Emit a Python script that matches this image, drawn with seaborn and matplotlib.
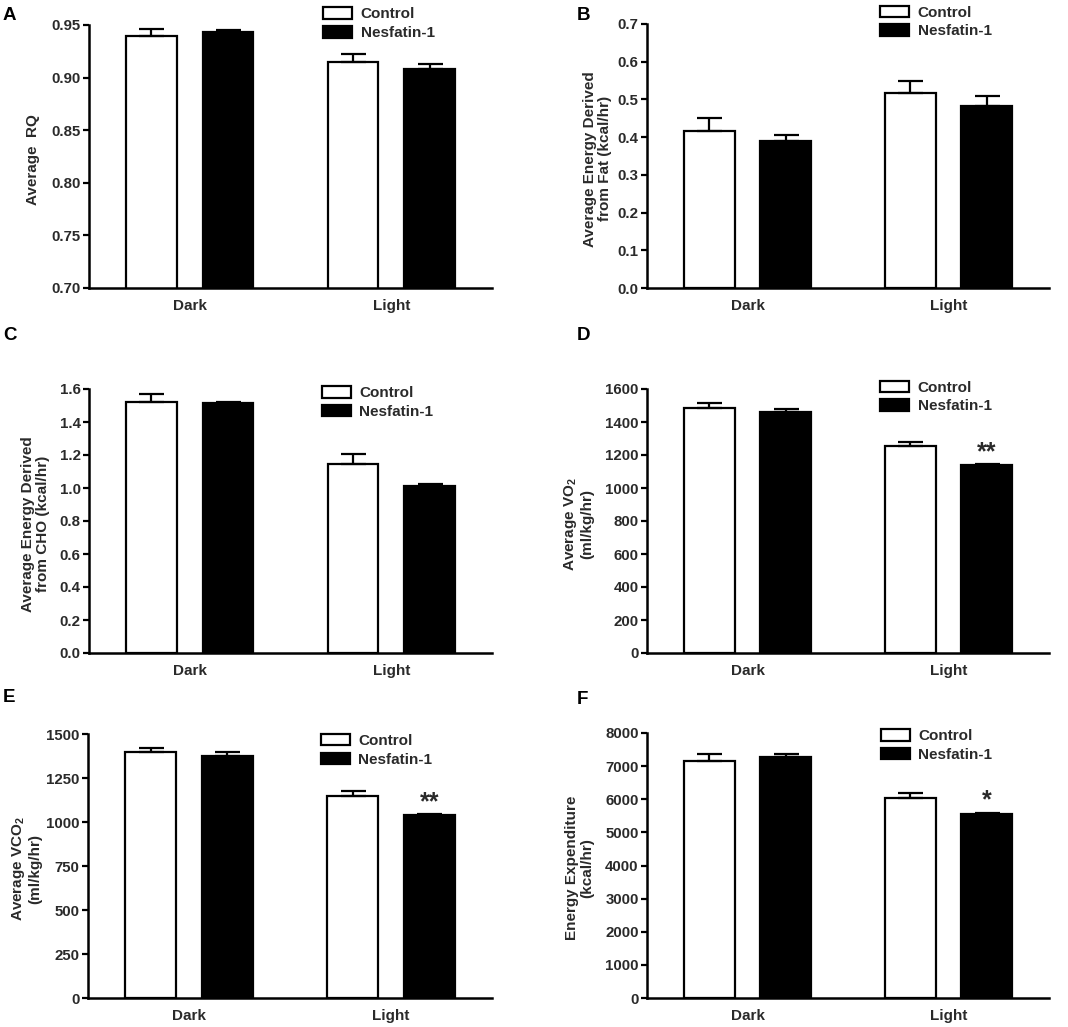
import matplotlib
matplotlib.use('Agg')
import pandas as pd
import matplotlib.pyplot as plt
import seaborn as sns
from matplotlib.patches import Patch
from matplotlib.ticker import MultipleLocator, FormatStrFormatter

periods = ['Dark', 'Light']
groups = ['Control', 'Nesfatin-1']

# A - average RQ
rq_control = [0.940, 0.915]
rq_control_sem = [0.0065, 0.007]
rq_nesfatin = [0.943, 0.908]
rq_nesfatin_sem = [0.0025, 0.005]

# B - energy derived from fat (kcal/hr)
fat_control = [0.417, 0.517]
fat_control_sem = [0.035, 0.033]
fat_nesfatin = [0.391, 0.482]
fat_nesfatin_sem = [0.014, 0.026]

# C - energy derived from CHO (kcal/hr)
cho_control = [1.523, 1.145]
cho_control_sem = [0.048, 0.060]
cho_nesfatin = [1.517, 1.010]
cho_nesfatin_sem = [0.004, 0.016]

# D - VO2 (ml/kg/hr)
vo2_control = [1483, 1255]
vo2_control_sem = [30, 25]
vo2_nesfatin = [1463, 1140]
vo2_nesfatin_sem = [15, 6]

# E - VCO2 (ml/kg/hr)
vco2_control = [1396, 1148]
vco2_control_sem = [26, 30]
vco2_nesfatin = [1377, 1040]
vco2_nesfatin_sem = [19, 6]

# F - energy expenditure (kcal/hr)
ee_control = [7163, 6037]
ee_control_sem = [190, 150]
ee_nesfatin = [7274, 5554]
ee_nesfatin_sem = [100, 40]

# significance marks on the Nesfatin-1 bars
vo2_stars = ['', '**']
vco2_stars = ['', '**']
ee_stars = ['', '*']

sns.set_style('ticks')
plt.rcParams['font.family'] = ['Liberation Sans', 'DejaVu Sans']
plt.rcParams['mathtext.fontset'] = 'custom'
plt.rcParams['mathtext.rm'] = 'Liberation Sans:bold'
plt.rcParams['mathtext.bf'] = 'Liberation Sans:bold'

TXT = '#2a2a2a'
W, H = 1068, 1027
fig = plt.figure(figsize=(W / 100, H / 100), dpi=100)

panels = [
    # letter, control, c_sem, nesfatin, n_sem, stars, ylabel, ylim, step, fmt,
    # axes box px (l, t, r, b), legend anchor, ylabel x, letter pos px
    ('A', rq_control, rq_control_sem, rq_nesfatin, rq_nesfatin_sem, None,
     'Average  RQ', (0.70, 0.95), 0.05, '%.2f',
     (89, 25, 492, 288), (0.581, 1.067), -0.122, (3, 7)),
    ('B', fat_control, fat_control_sem, fat_nesfatin, fat_nesfatin_sem, None,
     'Average Energy Derived\nfrom Fat (kcal/hr)', (0, 0.7), 0.1, '%.1f',
     (647, 24, 1049, 288), (0.58, 1.070), -0.087, (577, 7)),
    ('C', cho_control, cho_control_sem, cho_nesfatin, cho_nesfatin_sem, None,
     'Average Energy Derived\nfrom CHO (kcal/hr)', (0, 1.6), 0.2, '%.1f',
     (89, 389, 492, 653), (0.578, 1.011), -0.097, (3, 327)),
    ('D', vo2_control, vo2_control_sem, vo2_nesfatin, vo2_nesfatin_sem, vo2_stars,
     'Average VO$_2$\n(ml/kg/hr)', (0, 1600), 200, '%d',
     (647, 389, 1049, 653), (0.58, 1.032), -0.132, (577, 327)),
    ('E', vco2_control, vco2_control_sem, vco2_nesfatin, vco2_nesfatin_sem, vco2_stars,
     'Average VCO$_2$\n(ml/kg/hr)', (0, 1500), 250, '%d',
     (88, 734, 492, 998), (0.576, 1.0), -0.114, (3, 689)),
    ('F', ee_control, ee_control_sem, ee_nesfatin, ee_nesfatin_sem, ee_stars,
     'Energy Expenditure\n(kcal/hr)', (0, 8000), 1000, '%d',
     (647, 733, 1049, 998), (0.581, 1.015), -0.132, (577, 691)),
]

for (letter, ctrl, ctrl_sem, nesf, nesf_sem, stars, ylabel, ylim, step, fmt,
     box, leg_anchor, ylab_x, letter_pos) in panels:
    l, t, r, b = box
    ax = fig.add_axes([l / W, 1 - b / H, (r - l) / W, (b - t) / H])

    df = pd.DataFrame({
        'period': periods * 2,
        'group': [groups[0]] * 2 + [groups[1]] * 2,
        'value': ctrl + nesf,
    })
    sns.barplot(data=df, x='period', y='value', hue='group', order=periods,
                hue_order=groups, palette={'Control': 'white', 'Nesfatin-1': 'black'},
                saturation=1, edgecolor='black', linewidth=1.6, width=0.76, gap=0.34,
                errorbar=None, legend=False, ax=ax, zorder=2)

    bar_sets = list(ax.containers)
    for bars, sems in zip(bar_sets, [ctrl_sem, nesf_sem]):
        for bar, s in zip(bars, sems):
            x = bar.get_x() + bar.get_width() / 2
            h = bar.get_height()
            ax.errorbar(x, h, yerr=[[0], [s]], fmt='none', ecolor='black',
                        elinewidth=1.6, capsize=9, capthick=1.6, zorder=3)
    if stars:
        for bar, s, mark in zip(bar_sets[1], nesf_sem, stars):
            if mark:
                x = bar.get_x() + bar.get_width() / 2
                ax.annotate(mark, xy=(x, bar.get_height() + s), xytext=(0, 0),
                            textcoords='offset points', ha='center', va='bottom',
                            fontsize=18, fontweight='bold', color=TXT)

    ax.set_xlim(-0.5, 1.5)
    ax.set_ylim(*ylim)
    ax.yaxis.set_major_locator(MultipleLocator(step))
    ax.yaxis.set_major_formatter(FormatStrFormatter(fmt))
    ax.set_xlabel('')
    ax.set_ylabel(ylabel, fontsize=11, fontweight='bold', color=TXT, linespacing=1.05)
    ax.yaxis.set_label_coords(ylab_x, 0.49)

    for side in ['top', 'right']:
        ax.spines[side].set_visible(False)
    for side in ['left', 'bottom']:
        ax.spines[side].set_linewidth(1.8)
        ax.spines[side].set_color('black')
    ax.tick_params(axis='y', length=4.5, width=1.6, pad=1.5, direction='out',
                   labelsize=10.8, labelcolor=TXT, color='black')
    ax.tick_params(axis='x', length=0, pad=8, labelsize=11, labelcolor=TXT)
    for lab in ax.get_xticklabels() + ax.get_yticklabels():
        lab.set_fontweight('bold')

    handles = [Patch(facecolor='white', edgecolor='black', linewidth=1.6),
               Patch(facecolor='black', edgecolor='black', linewidth=1.6)]
    leg = ax.legend(handles, groups, loc='upper left', bbox_to_anchor=leg_anchor,
                    frameon=False, borderpad=0, borderaxespad=0, handlelength=1.9,
                    handleheight=0.78, handletextpad=0.55, labelspacing=0.3,
                    prop={'size': 11, 'weight': 'bold'})
    for txt in leg.get_texts():
        txt.set_color(TXT)

    fig.text(letter_pos[0] / W, 1 - letter_pos[1] / H, letter, ha='left', va='top',
             fontsize=13.5, fontweight='bold', color='black')

fig.savefig('out.png', dpi=100)
